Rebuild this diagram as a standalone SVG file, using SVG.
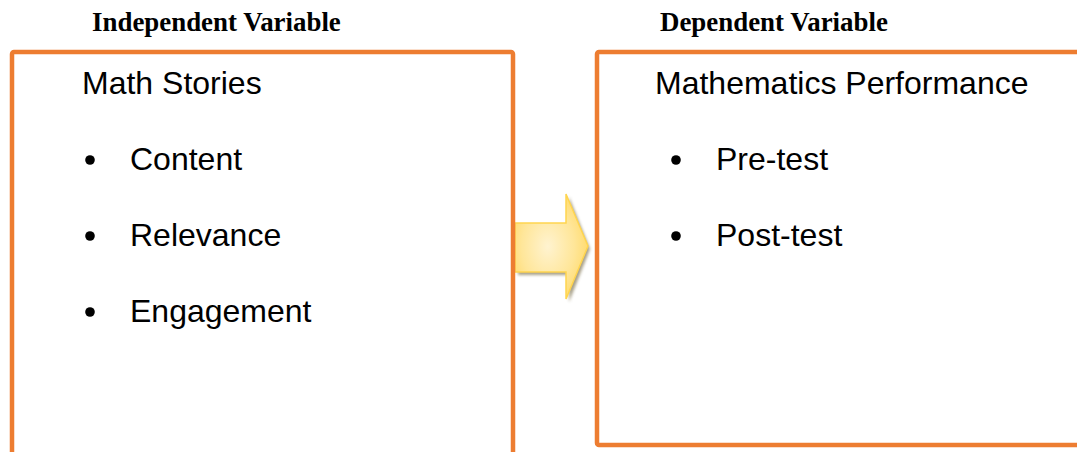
<svg xmlns="http://www.w3.org/2000/svg" width="1077" height="452" viewBox="0 0 1077 452">
  <style>
    .box { fill: #ffffff; stroke: #ED7D31; stroke-width: 4.5; }
    .head { font-family: "Liberation Serif", "Times New Roman", serif; font-weight: bold; font-size: 26.9px; fill: #000; }
    .lbl { font-family: "Liberation Sans", Arial, sans-serif; font-size: 32px; fill: #000; }
    .dot { fill: #000; }
  </style>
  <defs>
    <radialGradient id="arrowFill" cx="0.45" cy="0.5" r="0.6">
      <stop offset="0" stop-color="#FFF3D0"/>
      <stop offset="0.6" stop-color="#FFE699"/>
      <stop offset="1" stop-color="#FFD966"/>
    </radialGradient>
    <filter id="shadow" x="-20%" y="-20%" width="140%" height="140%">
      <feGaussianBlur stdDeviation="1.5"/>
    </filter>
  </defs>

  <g id="heading-independent">
    <text class="head" x="92" y="31">Independent Variable</text>
  </g>
  <g id="heading-dependent">
    <text class="head" x="660" y="31">Dependent Variable</text>
  </g>

  <g id="connectors">
    <path d="M518,226 L569,226 L569,197 L590,249 L569,302 L569,275 L518,275 Z" fill="#8a8060" opacity="0.75" filter="url(#shadow)"/>
    <path d="M515,223 L566,223 L566,194 L588,246 L566,299 L566,272 L515,272 Z" fill="url(#arrowFill)" stroke="#FFD54F" stroke-width="1.5" stroke-linejoin="miter"/>
  </g>

  <g id="node-math-stories">
    <rect class="box" x="12" y="52" width="501" height="420" rx="2"/>
    <text class="lbl" x="82" y="94">Math Stories</text>
    <circle class="dot" cx="90" cy="160" r="4.8"/>
    <text class="lbl" x="130" y="170">Content</text>
    <circle class="dot" cx="90" cy="236" r="4.8"/>
    <text class="lbl" x="130" y="246">Relevance</text>
    <circle class="dot" cx="90" cy="312" r="4.8"/>
    <text class="lbl" x="130" y="322">Engagement</text>
  </g>

  <g id="node-math-performance">
    <rect class="box" x="597" y="52" width="500" height="393" rx="2"/>
    <text class="lbl" x="655" y="94">Mathematics Performance</text>
    <circle class="dot" cx="676" cy="160" r="4.8"/>
    <text class="lbl" x="716" y="170">Pre-test</text>
    <circle class="dot" cx="676" cy="236" r="4.8"/>
    <text class="lbl" x="716" y="246">Post-test</text>
  </g>
</svg>
